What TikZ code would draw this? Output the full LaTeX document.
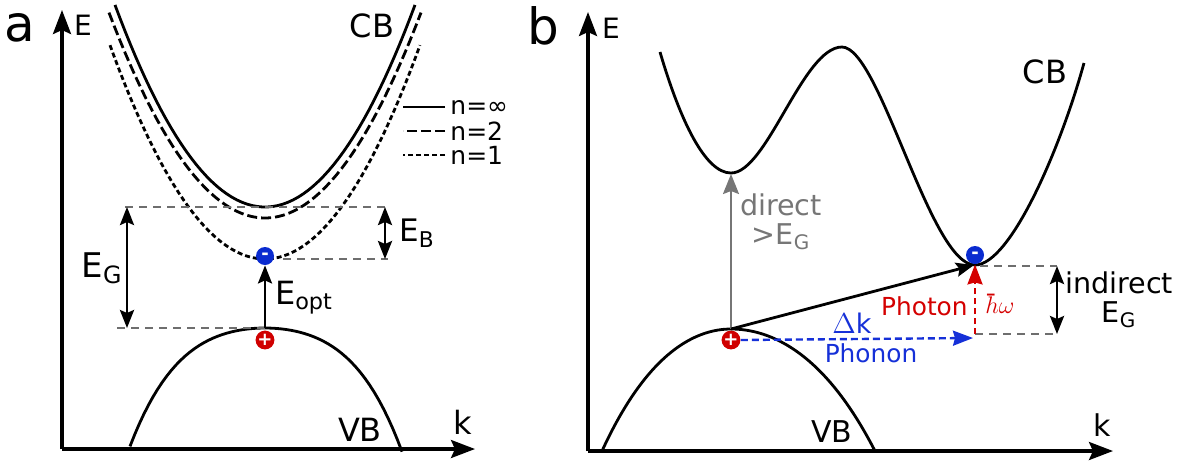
\documentclass[tikz,border=0pt]{standalone}
\usepackage{fontspec}
\setmainfont{DejaVu Sans}
\usepackage{tikz}
\usetikzlibrary{positioning, arrows.meta, calc}
\definecolor{elblue}{HTML}{0A2BD0}
\definecolor{hored}{HTML}{D00000}
\definecolor{guidegray}{HTML}{6E6E6E}
\definecolor{directgray}{HTML}{767676}
\definecolor{photred}{HTML}{D40000}
\definecolor{phonblue}{HTML}{1530D8}
\newcommand{\fs}[1]{\fontsize{#1}{#1}\selectfont}

\begin{document}
\begin{tikzpicture}[x=0.5pt, y=-0.5pt,
        axis/.style={line width=1.6pt, -{Stealth[length=12pt, width=9pt, inset=2pt]}},
        band/.style={line width=1.4pt},
        guide/.style={draw=guidegray, line width=1.4pt, dash pattern=on 4pt off 3pt},
        gaparrow/.style={line width=1.4pt, {Stealth[length=9pt, width=7pt, inset=1.5pt]}-{Stealth[length=9pt, width=7pt, inset=1.5pt]}},
        trans/.style={line width=1.4pt, -{Stealth[length=9pt, width=7pt, inset=1.5pt]}},
        carrier/.style={circle, inner sep=0pt, minimum size=9pt, text=white, font=\bfseries\fs{9}},
        electron/.style={carrier, fill=elblue},
        hole/.style={carrier, fill=hored},
        lbl/.style={inner sep=0pt, font=\fs{16}},
        panel/.style={inner sep=0pt, font=\fs{25}},
        legtext/.style={inner sep=0pt, anchor=west, font=\fs{12.5}}
    ]
    \useasboundingbox (0,0) rectangle (1194,463);

    % panel a
    \coordinate (originA) at (62,449);
    \coordinate (EtipA) at (62,10);
    \coordinate (ktipA) at (475,449);
    \coordinate (cbminA) at (265,207);
    \coordinate (exminA) at (265,259);
    \coordinate (vbtopA) at (265,328);
    \draw[axis] (originA) -- (EtipA);
    \draw[axis] (originA) -- (ktipA);
    \node[panel] (labA) at (20,28) {a};
    \node[lbl, font=\fs{14}] (EA) at (83,25) {E};
    \node[lbl] (kA) at (463,422) {k};

    \draw[band] plot[domain=115:415, samples=60] (\x, {207-89.8*((\x-265)/100)^2});
    \draw[band, dash pattern=on 5pt off 2pt] plot[domain=109:421, samples=60] (\x, {218-84.4*((\x-265)/100)^2});
    \draw[band, dash pattern=on 2.5pt off 1.5pt] plot[domain=110:420, samples=60] (\x, {259-89*((\x-265)/100)^2});
    \draw[band] plot[domain=130:402, samples=60] (\x, {328+121*(0.5*((\x-265)/136)^2+0.5*((\x-265)/136)^4)});
    \node[lbl] (cbA) at (372,26) {CB};
    \node[lbl] (vbA) at (360,430) {VB};

    % legend
    \node[legtext] (leginf) at (450,107) {n=∞};
    \node[legtext] (legtwo) at (450,131) {n=2};
    \node[legtext] (legone) at (450,155) {n=1};
    \draw[band] (leginf.west) ++(-5,0) -- ++(-42,0);
    \draw[band, dash pattern=on 5pt off 2pt] (legtwo.west) ++(-5,0) -- ++(-42,0);
    \draw[band, dash pattern=on 2.5pt off 1.5pt] (legone.west) ++(-5,0) -- ++(-42,0);

    % gaps
    \draw[guide] (125,207) -- (388,207);
    \draw[guide] (117,328) -- (vbtopA);
    \draw[guide] (283,259) -- (388,259);
    \coordinate (egtopA) at (127,207);
    \coordinate (egbotA) at (127,328);
    \coordinate (ebtopA) at (385,207);
    \coordinate (ebbotA) at (385,259);
    \draw[gaparrow] (egtopA) -- (egbotA);
    \draw[gaparrow] (ebtopA) -- (ebbotA);
    \node[electron] (elA) at (265,256) {-};
    \node[hole] (hoA) at (265,340) {+};
    \draw[trans] (vbtopA) -- (elA.south);
    \node[lbl, font=\fs{17}, anchor=east] (egA) at (123,268) {E\textsubscript{G}};
    \node[lbl, font=\fs{15.5}] (ebA) at (417,233) {E\textsubscript{B}};
    \node[lbl] (eoptA) at (304,298) {E\textsubscript{opt}};

    % panel b
    \coordinate (originB) at (588,451);
    \coordinate (EtipB) at (588,12);
    \coordinate (ktipB) at (1113,451);
    \coordinate (vbtopB) at (731,329);
    \coordinate (cbminB) at (731,174);
    \coordinate (cbmin2B) at (974,265);
    \coordinate (photbase) at (975,334);
    \coordinate (phonend) at (973,338);
    \draw[axis] (originB) -- (EtipB);
    \draw[axis] (originB) -- (ktipB);
    \node[panel] (labB) at (543,26) {b};
    \node[lbl, font=\fs{14}] (EB) at (611,28) {E};
    \node[lbl, font=\fs{15}] (kB) at (1102,425) {k};

    \draw[band] (660,52) .. controls (680,120) and (705,173) .. (731,173)
        .. controls (767,173) and (803,47) .. (842,47)
        .. controls (880,47) and (930,265) .. (975,265)
        .. controls (1010,265) and (1060,150) .. (1084,63);
    \draw[band] plot[domain=602:731, samples=40] (\x, {329+122*(0.85*((731-\x)/129)^2+0.15*((731-\x)/129)^4)})
        -- plot[domain=731:875, samples=40] (\x, {329+122*(0.85*((\x-731)/144)^2+0.15*((\x-731)/144)^4)});
    \node[lbl] (cbB) at (1045,72) {CB};
    \node[lbl, font=\fs{15}] (vbB) at (832,432) {VB};

    % transitions
    \draw[guide] (980,266) -- (1057,266);
    \draw[guide] (photbase) -- (1057,334);
    \draw[gaparrow] (1057,266) -- (1057,334);
    \node[hole] (hoB) at (731,340) {+};
    \node[electron] (elB) at (975,255) {-};
    \draw[line width=1pt, draw=directgray, -{Stealth[length=10pt, width=8pt, inset=1.5pt]}] (vbtopB) -- (cbminB);
    \draw[trans] (vbtopB) -- (cbmin2B);
    \draw[line width=1.2pt, draw=phonblue, dash pattern=on 3.5pt off 2pt, -{Stealth[length=10pt, width=7.5pt, inset=1pt]}] (hoB.east) -- (phonend);
    \draw[line width=1.2pt, draw=photred, dash pattern=on 3pt off 2pt, -{Stealth[length=10pt, width=7.5pt, inset=1pt]}] (photbase) -- (elB.south);

    \node[lbl, font=\fs{14.3}, text=directgray, align=center] (directB) at (781,222) {direct\\>E\textsubscript{G}};
    \node[lbl, font=\fs{14.3}, align=center] (indirectB) at (1119,300) {indirect\\E\textsubscript{G}};
    \node[lbl, font=\fs{12.4}, text=photred, anchor=east] (photon) at (968,306) {Photon};
    \node[lbl, font=\fs{13}, text=photred, anchor=west] (hbar) at (984,304) {$\hbar\omega$};
    \node[lbl, font=\fs{13.5}, text=phonblue] (dk) at (852,323) {$\Delta\mathrm{k}$};
    \node[lbl, font=\fs{12.4}, text=phonblue] (phonon) at (871,353) {Phonon};

\end{tikzpicture}
\end{document}
